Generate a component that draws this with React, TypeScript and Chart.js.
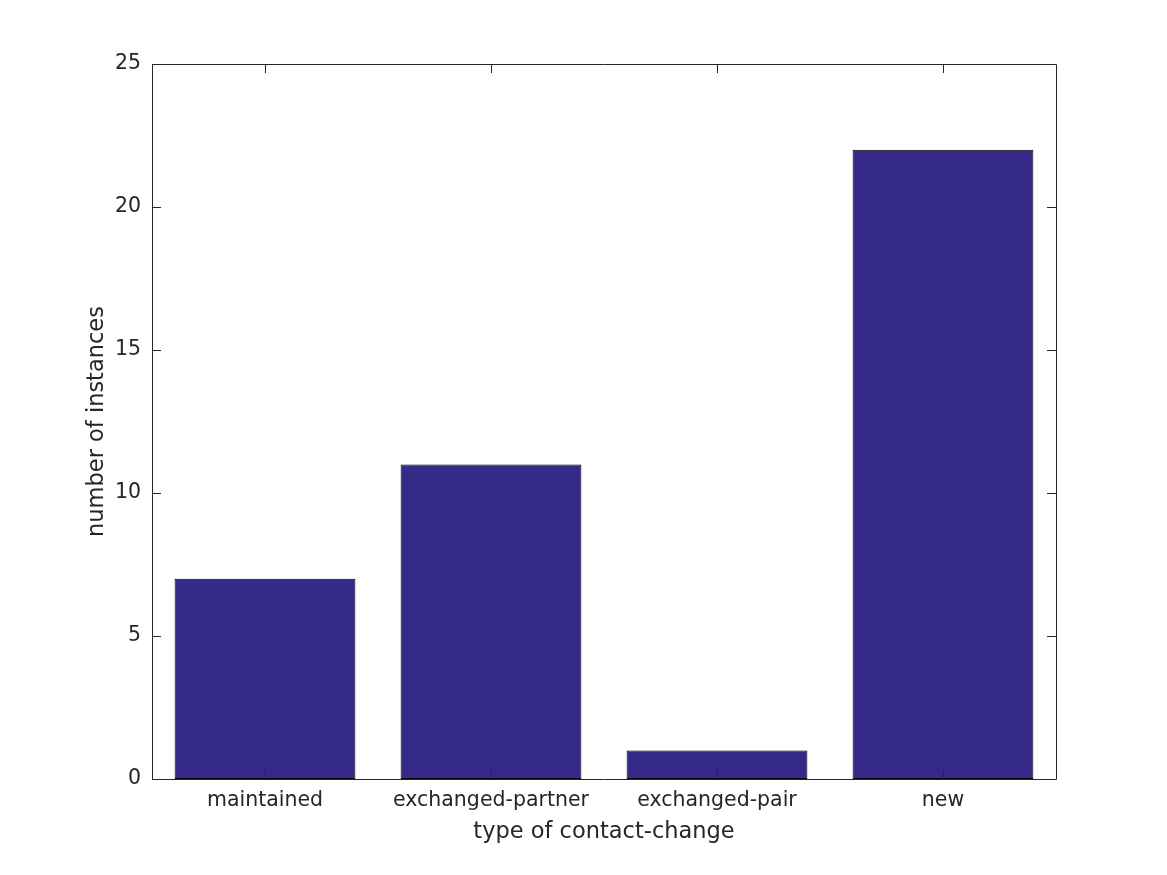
import React, { useEffect, useRef } from "react";
import { Chart, registerables } from "chart.js";

Chart.register(...registerables);

const categories = ["maintained", "exchanged-partner", "exchanged-pair", "new"];
const counts = [7, 11, 1, 22];
const yTicks = [0, 5, 10, 15, 20, 25];
const xTitle = "type of contact-change";
const yTitle = "number of instances";

const AXIS_COLOR = "#262626";
const BAR_COLOR = "#352A87";
const FONT = "'DejaVu Sans', sans-serif";

const boxPlugin = {
  id: "matlabBox",
  afterDatasetsDraw(chart: any) {
    const { ctx, chartArea } = chart;
    const { left, right, top, bottom } = chartArea;
    const xs = chart.scales.x;
    const ys = chart.scales.y;
    const tl = 9;
    ctx.save();
    ctx.strokeStyle = AXIS_COLOR;
    ctx.lineWidth = 1;
    ctx.beginPath();
    ctx.rect(Math.round(left) + 0.5, Math.round(top) + 0.5, Math.round(right - left), Math.round(bottom - top));
    ctx.stroke();
    ctx.beginPath();
    for (let i = 0; i < categories.length; i++) {
      const x = Math.round(xs.getPixelForValue(i)) + 0.5;
      ctx.moveTo(x, bottom);
      ctx.lineTo(x, bottom - tl);
      ctx.moveTo(x, top);
      ctx.lineTo(x, top + tl);
    }
    for (const v of yTicks) {
      const y = Math.round(ys.getPixelForValue(v)) + 0.5;
      ctx.moveTo(left, y);
      ctx.lineTo(left + tl, y);
      ctx.moveTo(right, y);
      ctx.lineTo(right - tl, y);
    }
    ctx.stroke();
    ctx.fillStyle = AXIS_COLOR;
    ctx.font = `22.5px ${FONT}`;
    ctx.textAlign = "center";
    ctx.textBaseline = "middle";
    ctx.fillText(xTitle, (left + right) / 2, 832);
    ctx.translate(97, (top + bottom) / 2);
    ctx.rotate(-Math.PI / 2);
    ctx.fillText(yTitle, 0, 0);
    ctx.restore();
  },
};

export default function App() {
  const ref = useRef<HTMLCanvasElement>(null);
  useEffect(() => {
    if (!ref.current) return;
    const chart = new Chart(ref.current, {
      type: "bar",
      data: {
        labels: categories,
        datasets: [
          {
            data: counts,
            backgroundColor: BAR_COLOR,
            borderColor: "#000000",
            borderWidth: 1,
            borderSkipped: false,
            barPercentage: 0.8,
            categoryPercentage: 1,
          },
        ],
      },
      options: {
        responsive: false,
        animation: false,
        devicePixelRatio: 1,
        layout: { padding: { left: 0, top: 64, right: 111, bottom: 0 } },
        plugins: { legend: { display: false }, tooltip: { enabled: false } },
        scales: {
          x: {
            grid: { display: false, drawTicks: false },
            border: { display: false },
            ticks: { color: AXIS_COLOR, font: { family: FONT, size: 20.5 }, padding: 9, maxRotation: 0 },
            afterFit(scale: any) {
              scale.height = 96;
            },
          },
          y: {
            min: 0,
            max: 25,
            grid: { display: false, drawTicks: false },
            border: { display: false },
            afterBuildTicks(scale: any) {
              scale.ticks = yTicks.map((v) => ({ value: v }));
            },
            ticks: { color: AXIS_COLOR, font: { family: FONT, size: 20.5 }, padding: 11 },
            afterFit(scale: any) {
              scale.width = 152;
            },
          },
        },
      },
      plugins: [boxPlugin],
    } as any);
    return () => chart.destroy();
  }, []);
  return (
    <div style={{ position: "fixed", left: 0, top: 0, width: 1167, height: 875, background: "#fff" }}>
      <canvas ref={ref} width={1167} height={875} style={{ width: 1167, height: 875 }} />
    </div>
  );
}
